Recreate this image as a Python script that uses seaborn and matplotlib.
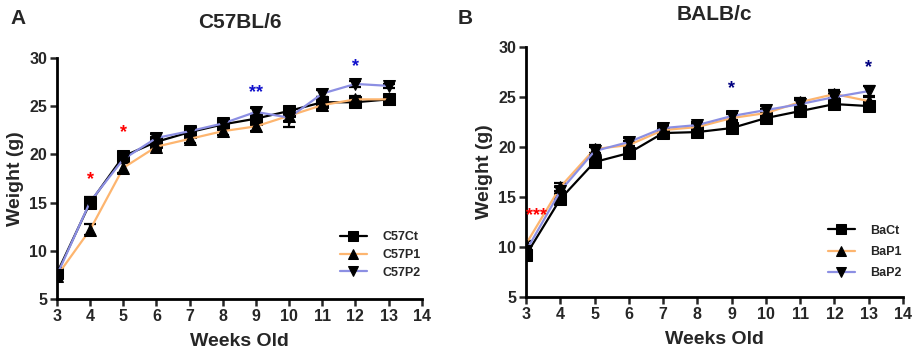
import matplotlib
matplotlib.use("Agg")
import matplotlib.pyplot as plt
import seaborn as sns
import pandas as pd

weeks = [3, 4, 5, 6, 7, 8, 9, 10, 11, 12, 13]

# Panel A: C57BL/6
c57_ct = [7.7, 15.0, 19.8, 21.3, 22.3, 23.1, 23.7, 24.5, 25.4, 25.4, 25.7]
c57_ct_err = [0.3, 0.5, 0.4, 0.4, 0.3, 0.4, 0.5, 0.4, 0.5, 0.5, 0.2]
c57_p1 = [7.4, 12.2, 18.6, 20.8, 21.6, 22.4, 22.9, 24.0, 25.1, 25.7, 25.7]
c57_p1_err = [0.3, 0.6, 0.5, 0.4, 0.4, 0.4, 0.5, 0.5, 0.5, 0.4, 0.3]
c57_p2 = [7.5, 15.1, 19.5, 21.7, 22.4, 23.2, 24.4, 23.8, 26.3, 27.3, 27.1]
c57_p2_err = [0.3, 0.5, 0.4, 0.4, 0.3, 0.3, 0.4, 1.0, 0.4, 0.3, 0.2]

# Panel B: BALB/c
ba_ct = [9.2, 14.8, 18.5, 19.4, 21.4, 21.5, 21.9, 22.9, 23.6, 24.3, 24.1]
ba_ct_err = [0.4, 0.4, 0.4, 0.4, 0.3, 0.3, 0.4, 0.4, 0.4, 0.3, 0.3]
ba_p1 = [10.3, 16.0, 19.8, 20.2, 21.7, 22.0, 22.9, 23.4, 24.5, 25.3, 24.6]
ba_p1_err = [0.3, 0.4, 0.4, 0.4, 0.4, 0.3, 0.4, 0.4, 0.4, 0.4, 0.4]
ba_p2 = [9.6, 15.6, 19.6, 20.5, 21.9, 22.2, 23.1, 23.7, 24.3, 25.0, 25.6]
ba_p2_err = [0.3, 0.4, 0.4, 0.4, 0.4, 0.3, 0.4, 0.4, 0.4, 0.3, 0.5]

labels_a = ["C57Ct", "C57P1", "C57P2"]
labels_b = ["BaCt", "BaP1", "BaP2"]
colors = ["#000000", "#FDB56F", "#8C8FE3"]
markers = ["s", "^", "v"]

# significance annotations (x, y, text, color)
sig_a = [(4, 17.4, "*", "#FF0000"), (5, 22.3, "*", "#FF0000"),
         (9, 26.4, "**", "#1010CC"), (12, 29.1, "*", "#1010CC")]
sig_b = [(3.3, 13.1, "***", "#FF0000"), (9, 25.8, "*", "#000080"),
         (13, 27.9, "*", "#000080")]

sns.set_style("ticks")
plt.rcParams["font.family"] = ["Liberation Sans", "DejaVu Sans"]
plt.rcParams["font.weight"] = "bold"

fig = plt.figure(figsize=(9.14, 3.53), dpi=100)
axA = fig.add_axes([0.0624, 0.153, 0.399, 0.683])
axB = fig.add_axes([0.5755, 0.1586, 0.4125, 0.708])


def draw(ax, series, errs, labels, sigs, title, letter, letter_x, title_y,
         leg_anchor, leg_space):
    for vals, err, lab, col, mk in zip(series, errs, labels, colors, markers):
        ax.errorbar(weeks, vals, yerr=err, fmt="none", ecolor="black",
                    elinewidth=1.6, capsize=4, capthick=1.6, zorder=2)
        sns.lineplot(x=weeks, y=vals, ax=ax, color=col, linewidth=1.6,
                     marker=mk, markersize=8, markerfacecolor="black",
                     markeredgecolor="black", label=lab, zorder=3)
    for x, y, t, c in sigs:
        ax.text(x, y, t, color=c, fontsize=13, fontweight="bold",
                ha="center", va="center")
    ax.set_xlim(3, 14)
    ax.set_ylim(5, 30)
    ax.set_xticks(range(3, 15))
    ax.set_yticks(range(5, 31, 5))
    ax.tick_params(axis="both", labelsize=11.5, width=1.8, length=5,
                   direction="out", pad=2)
    for lbl in ax.get_xticklabels() + ax.get_yticklabels():
        lbl.set_fontweight("bold")
    for s in ["left", "bottom"]:
        ax.spines[s].set_linewidth(2)
        ax.spines[s].set_color("black")
    sns.despine(ax=ax)
    ax.set_xlabel("Weeks Old", fontsize=14, fontweight="bold", labelpad=7)
    ax.set_ylabel("Weight (g)", fontsize=14, fontweight="bold", labelpad=4)
    ax.legend(loc="upper left", bbox_to_anchor=leg_anchor, frameon=False,
              prop={"weight": "bold", "size": 9}, handlelength=2.2,
              labelspacing=leg_space, handletextpad=1.2, borderpad=0,
              borderaxespad=0, markerscale=0.95)
    fig.text(letter_x, 1 - 18 / 353, letter, fontsize=15, fontweight="bold",
             ha="left", va="center")
    pos = ax.get_position()
    fig.text(pos.x0 + pos.width / 2, title_y, title, fontsize=15,
             fontweight="bold", ha="center", va="center")


draw(axA, [c57_ct, c57_p1, c57_p2], [c57_ct_err, c57_p1_err, c57_p2_err],
     labels_a, sig_a, "C57BL/6", "A", 10 / 914, 1 - 22 / 353, (0.775, 0.28),
     0.45)
draw(axB, [ba_ct, ba_p1, ba_p2], [ba_ct_err, ba_p1_err, ba_p2_err],
     labels_b, sig_b, "BALB/c", "B", 458 / 914, 1 - 14 / 353, (0.80, 0.29),
     0.75)

fig.savefig("out.png", dpi=100)
